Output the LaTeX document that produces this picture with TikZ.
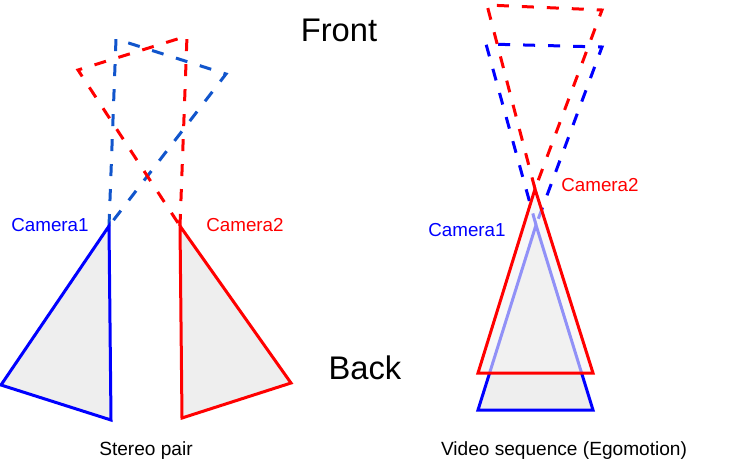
\documentclass[tikz,border=0pt]{standalone}
\usepackage{fontspec}
\setmainfont{Liberation Sans}
\definecolor{dblue}{HTML}{1155CC}
\definecolor{tfill}{HTML}{EEEEEE}
\definecolor{rfill}{HTML}{F3F3F3}
\tikzset{
  solidtri/.style={line width=3pt,line join=miter,fill=tfill},
  dashtri/.style={line width=3pt,dash pattern=on 12pt off 13pt,line join=miter},
  bigtext/.style={font=\fontsize{32.7}{36}\selectfont,inner sep=0pt,anchor=center},
  camlabel/.style={font=\fontsize{18.8}{20}\selectfont,inner sep=0pt,anchor=center},
  caption/.style={font=\fontsize{19.1}{21}\selectfont,inner sep=0pt,anchor=center}
}
\begin{document}
\begin{tikzpicture}[x=1pt,y=-1pt]
\useasboundingbox (0,0) rectangle (747,472);
% stereo pair
\coordinate (bA) at (109,226); \coordinate (bL) at (1,385); \coordinate (bR) at (111,420);
\coordinate (rA) at (180,226); \coordinate (rR) at (291,383); \coordinate (rL) at (182,418);
\draw[dashtri,draw=dblue] (bA) -- (116,39) -- (226,74) -- cycle;
\draw[dashtri,draw=red] (rA) -- (187,36) -- (78,70) -- cycle;
\draw[solidtri,draw=blue] (bA) -- (bL) -- (bR) -- cycle;
\draw[solidtri,draw=red] (rA) -- (rR) -- (rL) -- cycle;
% video sequence
\coordinate (vbA) at (536,225); \coordinate (vbL) at (478,410); \coordinate (vbR) at (593,410);
\coordinate (vrA) at (535,189); \coordinate (vrL) at (478,373); \coordinate (vrR) at (593,373);
\draw[solidtri,draw=blue] (vbA) -- (vbL) -- (vbR) -- cycle;
\draw[dashtri,draw=blue] (vbA) -- (486,44) -- (602,47) -- cycle;
\draw[dashtri,draw=red] (vrA) -- (487,5) -- (602,10) -- cycle;
\fill[rfill,opacity=0.6] (vrA) -- (vrL) -- (vrR) -- cycle;
\draw[line width=3pt,draw=red] (vrA) -- (vrL) -- (vrR) -- cycle;
% text
\node[bigtext] (front) at (339,30) {Front};
\node[bigtext] (back) at (365,368) {Back};
\node[camlabel,text=blue] (c1a) at (50,225) {Camera1};
\node[camlabel,text=red] (c2a) at (245,225) {Camera2};
\node[camlabel,text=blue] (c1b) at (467,230) {Camera1};
\node[camlabel,text=red] (c2b) at (600,185) {Camera2};
\node[caption] (s) at (146,451) {Stereo pair};
\node[caption] (v) at (564,451) {Video sequence (Egomotion)};
\end{tikzpicture}
\end{document}
